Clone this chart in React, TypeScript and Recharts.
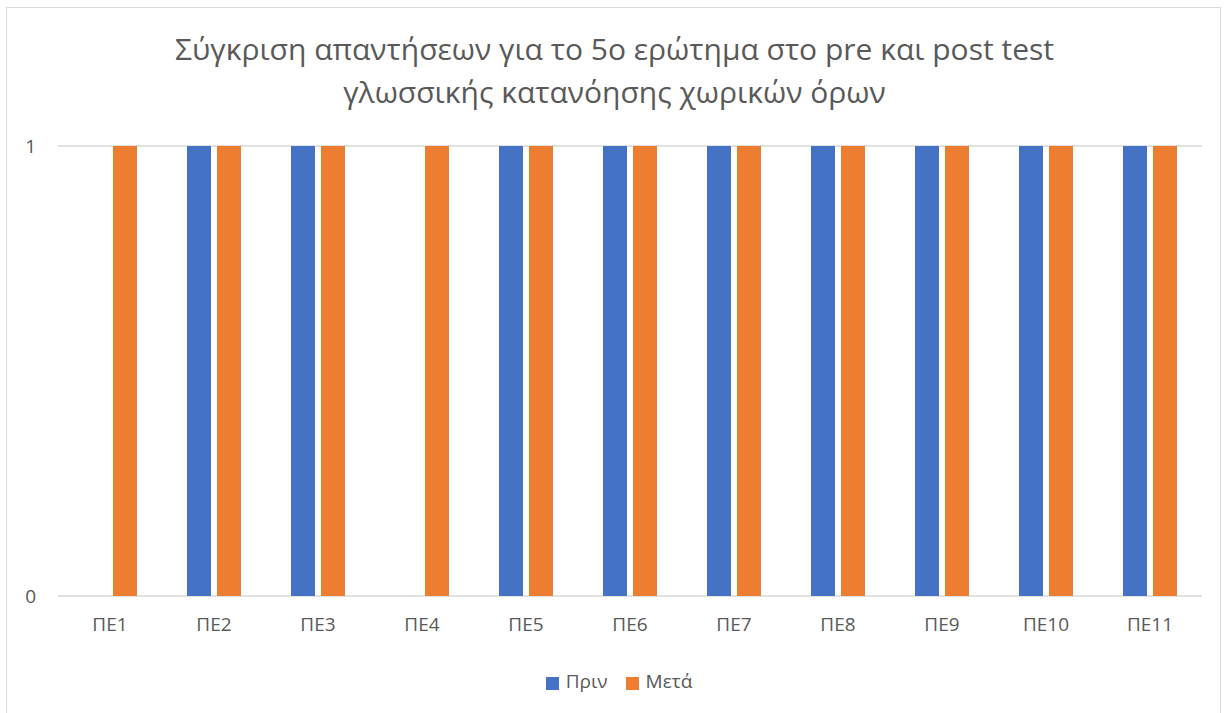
import { BarChart, Bar, XAxis, YAxis, CartesianGrid, Legend } from "recharts";

const categories = ["ΠΕ1", "ΠΕ2", "ΠΕ3", "ΠΕ4", "ΠΕ5", "ΠΕ6", "ΠΕ7", "ΠΕ8", "ΠΕ9", "ΠΕ10", "ΠΕ11"];
const prin = [0, 1, 1, 0, 1, 1, 1, 1, 1, 1, 1];
const meta = [1, 1, 1, 1, 1, 1, 1, 1, 1, 1, 1];
const yTicks = [0, 1];

const data = categories.map((name, i) => ({ name, prin: prin[i], meta: meta[i] }));

const FONT = "'Open Sans', 'Noto Sans', sans-serif";
const TEXT = "#595959";

export default function App() {
  return (
    <div
      style={{
        position: "absolute",
        top: 0,
        left: 0,
        width: 1229,
        height: 713,
        background: "#fff",
        fontFamily: FONT,
        overflow: "hidden",
      }}
    >
      <div
        style={{
          position: "absolute",
          left: 6,
          top: 7,
          width: 1215,
          height: 720,
          border: "1px solid #d9d9d9",
          boxSizing: "border-box",
        }}
      />
      <div
        style={{
          position: "absolute",
          top: 27,
          left: 0,
          width: 1229,
          textAlign: "center",
          fontSize: 30,
          lineHeight: "43px",
          color: TEXT,
        }}
      >
        Σύγκριση απαντήσεων για το 5ο ερώτημα στο pre και post test
        <br />
        γλωσσικής κατανόησης χωρικών όρων
      </div>
      <BarChart
        width={1229}
        height={713}
        data={data}
        margin={{ top: 146, right: 27, left: 8, bottom: 61 }}
        barGap={6}
        barSize={24}
        style={{ position: "absolute", top: 0, left: 0 }}
      >
        <CartesianGrid vertical={false} stroke="#d9d9d9" strokeWidth={1.5} />
        <XAxis
          dataKey="name"
          axisLine={false}
          tickLine={false}
          height={30}
          tickMargin={16}
          tick={{ fill: TEXT, fontSize: 19, fontFamily: FONT }}
        />
        <YAxis
          width={50}
          domain={[0, 1]}
          ticks={yTicks}
          axisLine={false}
          tickLine={false}
          tickMargin={16}
          tick={{ fill: TEXT, fontSize: 19, fontFamily: FONT }}
        />
        <Legend
          verticalAlign="bottom"
          align="center"
          iconType="square"
          iconSize={13}
          itemSorter={null}
          wrapperStyle={{ bottom: 19, left: 27 }}
          formatter={(value, _entry, index) => (
            <span
              style={{
                color: TEXT,
                fontSize: 19,
                fontFamily: FONT,
                paddingLeft: 3,
                paddingRight: index === 0 ? 8 : 0,
              }}
            >
              {value}
            </span>
          )}
        />
        <Bar dataKey="prin" name="Πριν" fill="#4472c4" isAnimationActive={false} />
        <Bar dataKey="meta" name="Μετά" fill="#ed7d31" isAnimationActive={false} />
      </BarChart>
    </div>
  );
}
